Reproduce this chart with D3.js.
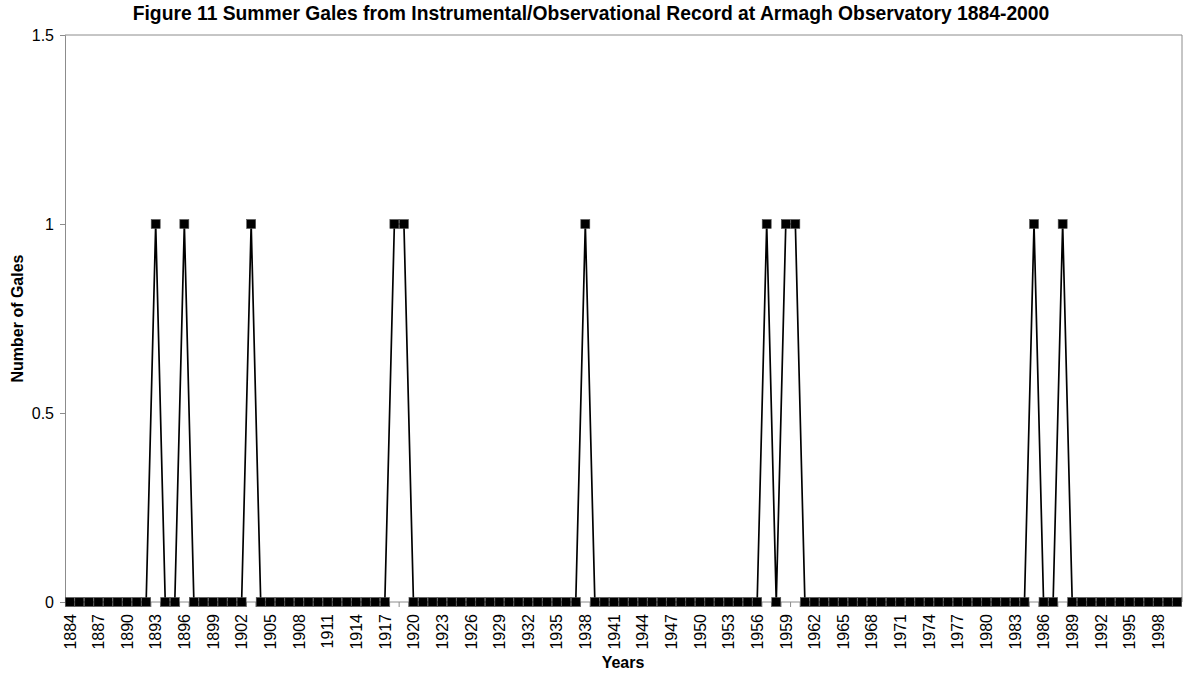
<!DOCTYPE html>
<html>
<head>
<meta charset="utf-8">
<script src="https://cdn.jsdelivr.net/npm/d3@7"></script>
<style>
  html, body { margin: 0; padding: 0; background: #fff; }
  svg { display: block; font-family: "Liberation Sans", Arial, sans-serif; }
</style>
</head>
<body>
<svg id="chart" width="1183" height="677"></svg>
<script>
const title = "Figure 11 Summer Gales from Instrumental/Observational Record at Armagh Observatory 1884-2000";
const yLabel = "Number of Gales";
const xLabel = "Years";
const firstYear = 1884;
// Number of summer gales per year, 1884-2000
const gales = [
  0,0,0,0,0,0,            // 1884-1889
  0,0,0,1,0,0,1,0,0,0,    // 1890s
  0,0,0,1,0,0,0,0,0,0,    // 1900s
  0,0,0,0,0,0,0,0,1,1,    // 1910s
  0,0,0,0,0,0,0,0,0,0,    // 1920s
  0,0,0,0,0,0,0,0,1,0,    // 1930s
  0,0,0,0,0,0,0,0,0,0,    // 1940s
  0,0,0,0,0,0,0,1,0,1,    // 1950s
  1,0,0,0,0,0,0,0,0,0,    // 1960s
  0,0,0,0,0,0,0,0,0,0,    // 1970s
  0,0,0,0,0,1,0,0,1,0,    // 1980s
  0,0,0,0,0,0,0,0,0,0,    // 1990s
  0                       // 2000
];
const yTicks = [0, 0.5, 1, 1.5];
const labelEvery = 3;

(function () {
const years = gales.map((_, i) => firstYear + i);
const data = years.map((yr, i) => ({ year: yr, value: gales[i] }));

const svg = d3.select("#chart");
const pLeft = 65, pRight = 1182, pTop = 35, pBottom = 602;

const x = d3.scaleBand().domain(years).range([pLeft, pRight]).padding(0);
const y = d3.scaleLinear().domain([0, 1.5]).range([pBottom, pTop]);
const cx = d => x(d) + x.bandwidth() / 2;

// plot area border (top & right)
svg.append("path")
  .attr("d", `M${pLeft},${pTop}H${pRight}V${pBottom}`)
  .attr("fill", "none").attr("stroke", "#8c8c8c").attr("stroke-width", 1);

// y axis
const yAxis = d3.axisLeft(y).tickValues(yTicks).tickSize(5).tickPadding(6)
  .tickFormat(d => Number.isInteger(d) ? String(d) : d3.format(".1f")(d));
const gy = svg.append("g").attr("transform", `translate(${pLeft},0)`).call(yAxis);
gy.select(".domain").attr("stroke", "#8c8c8c");
gy.selectAll(".tick line").attr("stroke", "#8c8c8c");
gy.selectAll(".tick text").attr("font-size", 16).attr("fill", "#000")
  .attr("font-family", "Liberation Sans, Arial, sans-serif");

// x axis: ticks at every category boundary
const gx = svg.append("g");
gx.append("line").attr("x1", pLeft).attr("x2", pRight).attr("y1", pBottom).attr("y2", pBottom)
  .attr("stroke", "#8c8c8c");
gx.selectAll("line.tk").data(years.slice(1)).enter().append("line")
  .attr("class", "tk")
  .attr("x1", d => x(d)).attr("x2", d => x(d))
  .attr("y1", pBottom).attr("y2", pBottom + 5)
  .attr("stroke", "#8c8c8c");
gx.selectAll("text").data(years.filter((d, i) => i % labelEvery === 0)).enter().append("text")
  .attr("transform", d => `translate(${cx(d)},${pBottom + 12}) rotate(-90)`)
  .attr("text-anchor", "end")
  .attr("dy", "0.36em")
  .attr("font-size", 16)
  .text(d => d);

// line
const line = d3.line().x(d => cx(d.year)).y(d => y(d.value));
svg.append("path").datum(data)
  .attr("d", line).attr("fill", "none").attr("stroke", "#000").attr("stroke-width", 1.7);

// markers
const ms = 9;
svg.selectAll("rect.m").data(data).enter().append("rect")
  .attr("class", "m")
  .attr("x", d => cx(d.year) - ms / 2).attr("y", d => y(d.value) - ms / 2)
  .attr("width", ms).attr("height", ms)
  .attr("fill", "#000").attr("stroke", "#555").attr("stroke-width", 0.6);

// title
svg.append("text").attr("x", 591).attr("y", 20).attr("text-anchor", "middle")
  .attr("font-size", 19.3).attr("font-weight", "bold").text(title);

// axis titles
svg.append("text").attr("transform", `translate(23,${(pTop + pBottom) / 2}) rotate(-90)`)
  .attr("text-anchor", "middle").attr("font-size", 16).attr("font-weight", "bold").text(yLabel);
svg.append("text").attr("x", 623).attr("y", 668).attr("text-anchor", "middle")
  .attr("font-size", 16).attr("font-weight", "bold").text(xLabel);
})();
</script>
</body>
</html>
